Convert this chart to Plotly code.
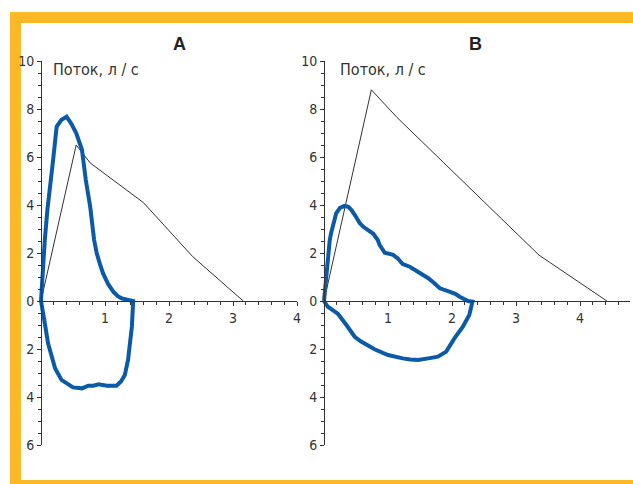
import plotly.graph_objects as go

# ---------------- data ----------------
# Panel A: predicted (normal) flow-volume curve
a_norm_x = [0, 0.55, 0.77, 1.6, 2.37, 3.16]
a_norm_y = [0, 6.5, 5.75, 4.1, 1.85, 0]
# Panel A: measured loop, expiration (positive) and inspiration (negative)
a_exp_x = [0, 0.02, 0.04, 0.06, 0.1, 0.14, 0.19, 0.245, 0.32, 0.4, 0.47, 0.55,
           0.64, 0.7, 0.77, 0.83, 0.87, 0.92, 0.97, 1.05, 1.13, 1.2, 1.26, 1.35, 1.44]
a_exp_y = [0, 1.0, 1.9, 2.56, 3.8, 4.6, 5.9, 7.27, 7.55, 7.68, 7.4, 7.0,
           6.3, 5.04, 3.9, 2.54, 2.0, 1.55, 1.15, 0.7, 0.39, 0.2, 0.11, 0.05, 0.02]
a_insp_x = [1.44, 1.42, 1.39, 1.36, 1.31, 1.25, 1.18, 1.03, 0.9, 0.82, 0.74, 0.64,
            0.5, 0.4, 0.32, 0.22, 0.16, 0.11, 0.06, 0.02, 0]
a_insp_y = [0, -1.07, -1.8, -2.46, -3.08, -3.35, -3.53, -3.53, -3.47, -3.53, -3.53, -3.64,
            -3.6, -3.43, -3.29, -2.8, -2.3, -1.76, -0.93, -0.3, 0]

# Panel B: predicted curve
b_norm_x = [0, 0.74, 1.14, 3.36, 4.42]
b_norm_y = [0, 8.8, 7.65, 1.91, 0]
# Panel B: measured loop
b_exp_x = [0, 0.03, 0.06, 0.09, 0.11, 0.15, 0.19, 0.25, 0.32, 0.38, 0.43, 0.49,
           0.56, 0.62, 0.69, 0.77, 0.84, 0.87, 0.95, 1.08, 1.15, 1.23, 1.34, 1.47,
           1.55, 1.63, 1.72, 1.81, 1.96, 2.05, 2.12, 2.2, 2.25]
b_exp_y = [0, 0.9, 1.71, 2.54, 2.82, 3.3, 3.65, 3.88, 3.96, 3.92, 3.79, 3.55,
           3.24, 3.08, 2.96, 2.8, 2.54, 2.33, 2.01, 1.92, 1.78, 1.54, 1.43, 1.22,
           1.12, 0.95, 0.75, 0.53, 0.39, 0.3, 0.18, 0.07, 0]
b_insp_x = [2.25, 2.32, 2.3, 2.27, 2.17, 2.04, 1.91, 1.78, 1.63, 1.47, 1.35, 1.23,
            1.0, 0.79, 0.58, 0.48, 0.35, 0.22, 0.12, 0.06, 0]
b_insp_y = [0, -0.03, -0.3, -0.58, -1.07, -1.55, -2.11, -2.32, -2.39, -2.46, -2.44, -2.39,
            -2.25, -2.01, -1.69, -1.49, -1.0, -0.54, -0.35, -0.24, 0]

y_tickvals = [-6, -4, -2, 0, 2, 4, 6, 8, 10]
y_ticktext = ["6", "4", "2", "0", "2", "4", "6", "8", "10"]
x_tickvals = [1, 2, 3, 4]
x_ticktext = ["1", "2", "3", "4"]
panel_titles = ["А", "В"]
y_label = "Поток, л / с"

# ---------------- layout geometry (pixels) ----------------
W, H = 633, 484
PX_PER_X = 64.0
Y_TOP_PX, Y_BOT_PX, Y0_PX = 61, 445, 301
X_LEFT_PAD = 0.06
A_X0_PX, B_X0_PX = 41, 324
A_XMAX, B_XMAX = 4.0, 4.78

BLUE = "#0A5AA8"
INK = "#333333"
ORANGE = "#FBB827"
FONT = "Liberation Sans Narrow, DejaVu Sans Condensed, Arial Narrow, sans-serif"


def px_x(p):
    return p / W


def px_y(p):
    return (H - p) / H


fig = go.Figure()
fig.add_trace(go.Scatter(x=a_norm_x, y=a_norm_y, mode="lines",
                         line=dict(color=INK, width=1), xaxis="x", yaxis="y",
                         showlegend=False, hoverinfo="skip"))
fig.add_trace(go.Scatter(x=a_exp_x + a_insp_x, y=a_exp_y + a_insp_y, mode="lines",
                         line=dict(color=BLUE, width=4), xaxis="x", yaxis="y",
                         showlegend=False))
fig.add_trace(go.Scatter(x=b_norm_x, y=b_norm_y, mode="lines",
                         line=dict(color=INK, width=1), xaxis="x2", yaxis="y2",
                         showlegend=False, hoverinfo="skip"))
fig.add_trace(go.Scatter(x=b_exp_x + b_insp_x, y=b_exp_y + b_insp_y, mode="lines",
                         line=dict(color=BLUE, width=4), xaxis="x2", yaxis="y2",
                         showlegend=False))

tickfont = dict(family=FONT, size=14, color=INK)


def xaxis_cfg(x0_px, xmax):
    left = x0_px - X_LEFT_PAD * PX_PER_X
    right = x0_px + xmax * PX_PER_X
    return dict(range=[-X_LEFT_PAD, xmax], domain=[px_x(left), px_x(right)],
                anchor="free", position=px_y(Y0_PX), automargin=False,
                showline=True, linecolor=INK, linewidth=1,
                showgrid=False, zeroline=False,
                tickmode="array", tickvals=x_tickvals, ticktext=x_ticktext,
                ticks="outside", ticklen=4, tickcolor=INK, tickwidth=1,
                minor=dict(dtick=0.2, tick0=0, ticklen=3, ticks="outside",
                           tickcolor=INK, showgrid=False),
                tickfont=tickfont, fixedrange=True)


def yaxis_cfg(x0_px):
    return dict(range=[-6, 10], domain=[px_y(Y_BOT_PX), px_y(Y_TOP_PX)],
                anchor="free", position=px_x(x0_px), automargin=False,
                showline=True, linecolor=INK, linewidth=1,
                showgrid=False, zeroline=False,
                tickmode="array", tickvals=y_tickvals, ticktext=y_ticktext,
                ticks="outside", ticklen=4, tickcolor=INK, tickwidth=1,
                minor=dict(dtick=0.5, tick0=0, ticklen=3, ticks="outside",
                           tickcolor=INK, showgrid=False),
                tickfont=tickfont, fixedrange=True)


shapes = [
    # orange frame
    dict(type="rect", xref="paper", yref="paper", x0=px_x(10), x1=1.0,
         y0=px_y(23), y1=px_y(12), fillcolor=ORANGE, line=dict(width=0), layer="below"),
    dict(type="rect", xref="paper", yref="paper", x0=px_x(10), x1=px_x(21),
         y0=0, y1=px_y(12), fillcolor=ORANGE, line=dict(width=0), layer="below"),
    dict(type="rect", xref="paper", yref="paper", x0=px_x(10), x1=1.0,
         y0=0, y1=px_y(480), fillcolor=ORANGE, line=dict(width=0), layer="below"),
]

title_font = dict(family="Liberation Sans, Arial, sans-serif", size=18, color="#222222")
label_font = dict(family=FONT, size=16, color=INK)

annotations = [
    dict(text="<b>" + panel_titles[0] + "</b>", x=px_x(179), y=px_y(44),
         xref="paper", yref="paper", showarrow=False, font=title_font,
         xanchor="center", yanchor="middle"),
    dict(text="<b>" + panel_titles[1] + "</b>", x=px_x(475), y=px_y(44),
         xref="paper", yref="paper", showarrow=False, font=title_font,
         xanchor="center", yanchor="middle"),
    dict(text=y_label, x=px_x(51), y=px_y(70), xref="paper", yref="paper",
         showarrow=False, font=label_font, xanchor="left", yanchor="middle"),
    dict(text=y_label, x=px_x(338), y=px_y(70), xref="paper", yref="paper",
         showarrow=False, font=label_font, xanchor="left", yanchor="middle"),
]

fig.update_layout(
    width=W, height=H, autosize=False,
    margin=dict(l=0, r=0, t=0, b=0, pad=0, autoexpand=False),
    paper_bgcolor="white", plot_bgcolor="rgba(0,0,0,0)",
    xaxis=xaxis_cfg(A_X0_PX, A_XMAX), yaxis=yaxis_cfg(A_X0_PX),
    xaxis2=xaxis_cfg(B_X0_PX, B_XMAX), yaxis2=yaxis_cfg(B_X0_PX),
    shapes=shapes, annotations=annotations,
    showlegend=False,
)

fig.write_html("out.html", config={"displayModeBar": False})
